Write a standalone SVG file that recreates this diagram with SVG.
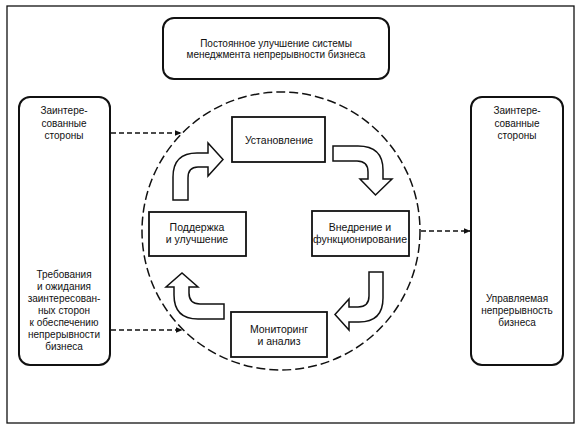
<svg xmlns="http://www.w3.org/2000/svg" width="581" height="431" viewBox="0 0 581 431">
<style>
.t{font-family:"Liberation Sans",Arial,sans-serif;font-size:10px;fill:#111;text-anchor:middle}
.tb{font-family:"Liberation Sans",Arial,sans-serif;font-size:10.5px;fill:#111;text-anchor:middle}
.rb{fill:#fff;stroke:#111;stroke-width:2}
.box{fill:#fff;stroke:#111;stroke-width:1.8}
.blk{fill:#fff;stroke:#111;stroke-width:1.5;stroke-linejoin:miter}
.dash{fill:none;stroke:#111;stroke-width:1.5;stroke-dasharray:5 3}
</style>
<defs>
<marker id="ah" viewBox="0 0 10 10" refX="9" refY="5" markerWidth="7" markerHeight="6" markerUnits="userSpaceOnUse" orient="auto" preserveAspectRatio="none">
<path d="M0 0 L10 5 L0 10 Z" fill="#111"/>
</marker>
</defs>
<rect width="581" height="431" fill="#fff"/>
<rect id="frame" x="7" y="6" width="567" height="417" fill="none" stroke="#111" stroke-width="1.3"/>

<g id="cycle">
<circle cx="281" cy="231" r="139" fill="none" stroke="#111" stroke-width="1.5" stroke-dasharray="9 4"/>
</g>

<g id="top-box">
<rect class="rb" x="163" y="18" width="226" height="61" rx="11"/>
<text class="t" x="276" y="47">Постоянное улучшение системы</text>
<text class="t" x="276" y="58">менеджмента непрерывности бизнеса</text>
</g>

<g id="left-box">
<rect class="rb" x="19" y="97" width="91" height="268" rx="11"/>
<text class="t" x="64" y="114">Заинтере-</text>
<text class="t" x="64" y="127">сованные</text>
<text class="t" x="64" y="139">стороны</text>
<text class="t" x="64" y="278">Требования</text>
<text class="t" x="64" y="290">и ожидания</text>
<text class="t" x="64" y="302">заинтересован-</text>
<text class="t" x="64" y="314">ных сторон</text>
<text class="t" x="64" y="326">к обеспечению</text>
<text class="t" x="64" y="338">непрерывности</text>
<text class="t" x="64" y="350">бизнеса</text>
</g>

<g id="right-box">
<rect class="rb" x="471" y="97" width="92" height="268" rx="11"/>
<text class="t" x="517" y="114">Заинтере-</text>
<text class="t" x="517" y="127">сованные</text>
<text class="t" x="517" y="139">стороны</text>
<text class="t" x="517" y="302">Управляемая</text>
<text class="t" x="517" y="314">непрерывность</text>
<text class="t" x="517" y="326">бизнеса</text>
</g>

<g id="establish">
<rect class="box" x="232" y="117" width="93" height="45"/>
<text class="tb" x="279" y="144">Установление</text>
</g>

<g id="implement">
<rect class="box" x="312" y="211" width="97" height="45"/>
<text class="tb" x="360" y="231">Внедрение и</text>
<text class="tb" x="360" y="243">функционирование</text>
</g>

<g id="monitor">
<rect class="box" x="231" y="312" width="96" height="45"/>
<text class="tb" x="279" y="333">Мониторинг</text>
<text class="tb" x="279" y="345">и анализ</text>
</g>

<g id="maintain">
<rect class="box" x="149" y="212" width="97" height="44"/>
<text class="tb" x="197" y="231">Поддержка</text>
<text class="tb" x="197" y="243">и улучшение</text>
</g>

<g id="connectors">
<path class="blk" d="M173 200 L173 177 Q173 153 197 153 L208 153 L208 143 L223 159.5 L208 176 L208 167 L198 167 Q188 167 188 178 L188 200 Z"/>
<path class="blk" d="M333 146 L358 146 Q383 146 383 170 L383 179 L392 179 L375.5 195 L360 179 L368 179 L368 172 Q368 161 357 161 L333 161 Z"/>
<path class="blk" d="M369 272 L383 272 L383 298 Q383 322 359 322 L349 322 L349 330 L335 314.5 L349 299 L349 307 L358 307 Q369 307 369 296 Z"/>
<path class="blk" d="M224 304 L224 319 L198 319 Q174 319 174 295 L174 287 L166 287 L182 273 L198 287 L189 287 L189 293 Q189 304 200 304 Z"/>
<line class="dash" x1="111" y1="133" x2="181" y2="133" marker-end="url(#ah)"/>
<line class="dash" x1="111" y1="330" x2="182" y2="330" marker-end="url(#ah)"/>
<line class="dash" x1="421" y1="231" x2="470" y2="231" marker-end="url(#ah)"/>
</g>
</svg>
